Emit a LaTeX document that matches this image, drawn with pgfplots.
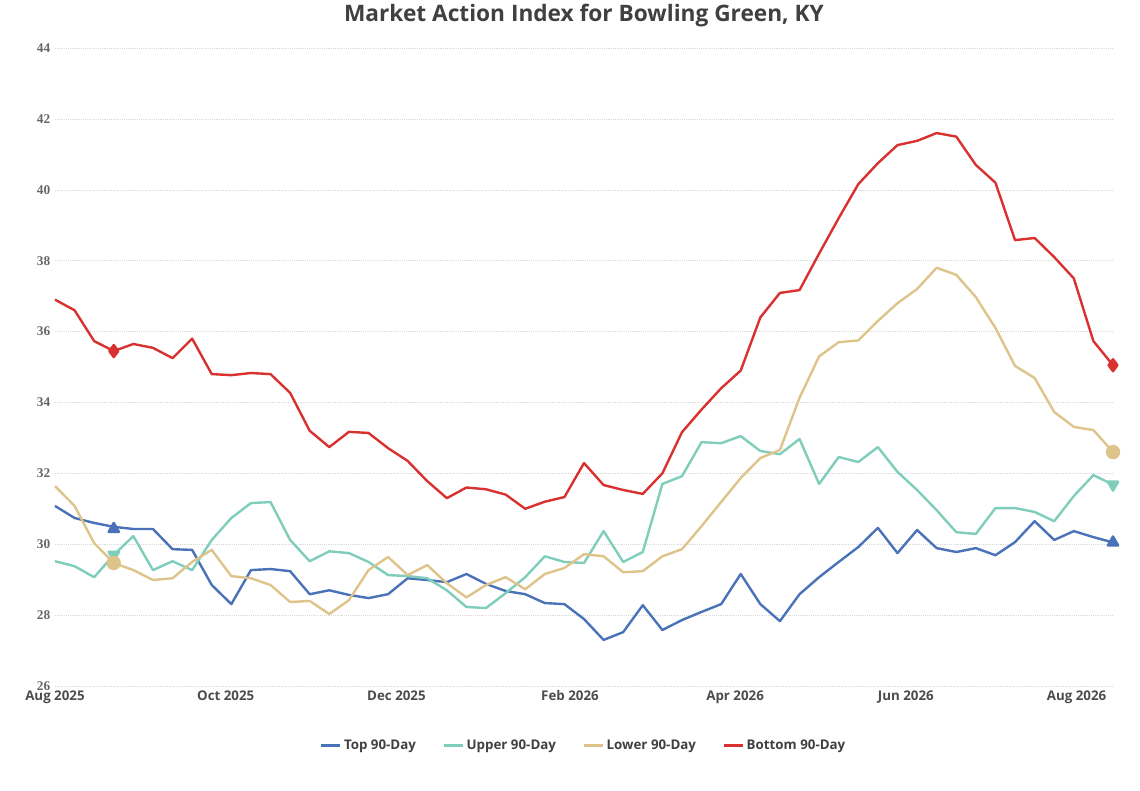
\documentclass[border=0pt]{standalone}
\usepackage{pgfplots}
\usepackage{pgfplotstable}
\pgfplotsset{compat=1.18}
\usepackage{fontspec}
\setmainfont{Open Sans}
\newfontfamily\serifb{Liberation Serif}
\definecolor{cTop}{HTML}{4A72B8}
\definecolor{cUp}{HTML}{7FCDBB}
\definecolor{cLow}{HTML}{DEC48A}
\definecolor{cBot}{HTML}{D93030}
\pgfplotstableread{
i top upper lower bottom
0 31.08 29.52 31.64 36.9
1 30.74 29.38 31.08 36.6
2 30.6 29.07 30.03 35.73
3 30.49 29.7 29.47 35.45
4 30.43 30.23 29.27 35.65
5 30.43 29.27 28.99 35.54
6 29.86 29.52 29.04 35.25
7 29.84 29.27 29.5 35.8
8 28.85 30.12 29.84 34.8
9 28.31 30.74 29.1 34.77
10 29.27 31.16 29.04 34.83
11 29.3 31.19 28.85 34.8
12 29.24 30.12 28.37 34.27
13 28.59 29.52 28.4 33.2
14 28.7 29.8 28.03 32.74
15 28.57 29.75 28.42 33.17
16 28.48 29.5 29.27 33.14
17 28.59 29.13 29.64 32.71
18 29.04 29.1 29.13 32.35
19 28.99 29.04 29.41 31.78
20 28.93 28.7 28.9 31.3
21 29.16 28.23 28.5 31.6
22 28.88 28.2 28.85 31.55
23 28.68 28.62 29.07 31.4
24 28.59 29.07 28.73 31.0
25 28.34 29.66 29.16 31.2
26 28.31 29.5 29.33 31.33
27 27.89 29.47 29.72 32.29
28 27.3 30.37 29.66 31.67
29 27.52 29.5 29.21 31.53
30 28.28 29.78 29.24 31.42
31 27.58 31.7 29.66 32.0
32 27.86 31.92 29.86 33.16
33 28.09 32.88 30.51 33.8
34 28.31 32.85 31.19 34.4
35 29.16 33.05 31.87 34.9
36 28.31 32.63 32.43 36.4
37 27.83 32.54 32.66 37.09
38 28.59 32.97 34.13 37.17
39 29.07 31.7 35.3 38.2
40 29.5 32.46 35.7 39.2
41 29.92 32.32 35.75 40.16
42 30.46 32.74 36.3 40.75
43 29.75 32.04 36.8 41.26
44 30.4 31.53 37.2 41.38
45 29.89 30.96 37.8 41.6
46 29.78 30.34 37.6 41.5
47 29.89 30.29 36.97 40.7
48 29.69 31.02 36.1 40.2
49 30.06 31.02 35.03 38.58
50 30.65 30.91 34.69 38.64
51 30.12 30.65 33.73 38.1
52 30.37 31.36 33.31 37.5
53 30.2 31.95 33.22 35.73
54 30.05 31.68 32.6 35.05
}\data
\begin{document}
\begin{tikzpicture}
\path (0,0) rectangle (855pt,592.5pt);
\begin{axis}[at={(41.25pt,78pt)}, anchor=origin,
  scale only axis, width=793.5pt, height=478.5pt,
  xmin=0, xmax=378, ymin=26, ymax=44,
  xtick={0,61,122,184,243,304,365},
  xticklabels={Aug 2025,Oct 2025,Dec 2025,Feb 2026,Apr 2026,Jun 2026,Aug 2026},
  ytick={26,28,...,44},
  yticklabel style={font=\serifb\bfseries\normalsize, text=gray!80!black},
  xticklabel style={font=\bfseries\normalsize, text=black!70},
  /pgf/number format/assume math mode=true,
  axis line style={draw=none}, tick style={draw=none},
  ymajorgrids, grid style={densely dotted, gray!30},
  title={Market Action Index for Bowling Green, KY},
  title style={font=\fontsize{17}{20}\selectfont\bfseries, text=black!75, yshift=6pt},
  legend style={at={(0.5,-0.075)}, anchor=north, draw=none, legend columns=4,
    font=\normalsize\bfseries, text=black!75, /tikz/every even column/.append style={column sep=18pt}},
  legend image code/.code={\draw[#1, line width=2pt] (0pt,0pt) -- (14pt,0pt);},
  every axis plot/.append style={line width=1.8pt, line join=round},
  clip=false]
\addplot[cTop] table[x expr=\thisrow{i}*7, y=top]{\data};
\addlegendentry{Top 90-Day}
\addplot[cUp] table[x expr=\thisrow{i}*7, y=upper]{\data};
\addlegendentry{Upper 90-Day}
\addplot[cLow] table[x expr=\thisrow{i}*7, y=lower]{\data};
\addlegendentry{Lower 90-Day}
\addplot[cBot] table[x expr=\thisrow{i}*7, y=bottom]{\data};
\addlegendentry{Bottom 90-Day}
\addplot[only marks, mark=triangle*, mark size=4.5pt, cTop, forget plot] coordinates {(21,30.43) (378,30.05)};
\addplot[only marks, mark=triangle*, mark options={rotate=180}, mark size=4.5pt, cUp, forget plot] coordinates {(21,29.7) (378,31.68)};
\addplot[only marks, mark=*, mark size=4.5pt, cLow, forget plot] coordinates {(21,29.47) (378,32.6)};
\addplot[only marks, mark=diamond*, mark size=4.5pt, cBot, forget plot] coordinates {(21,35.45) (378,35.05)};
\end{axis}
\end{tikzpicture}
\end{document}
